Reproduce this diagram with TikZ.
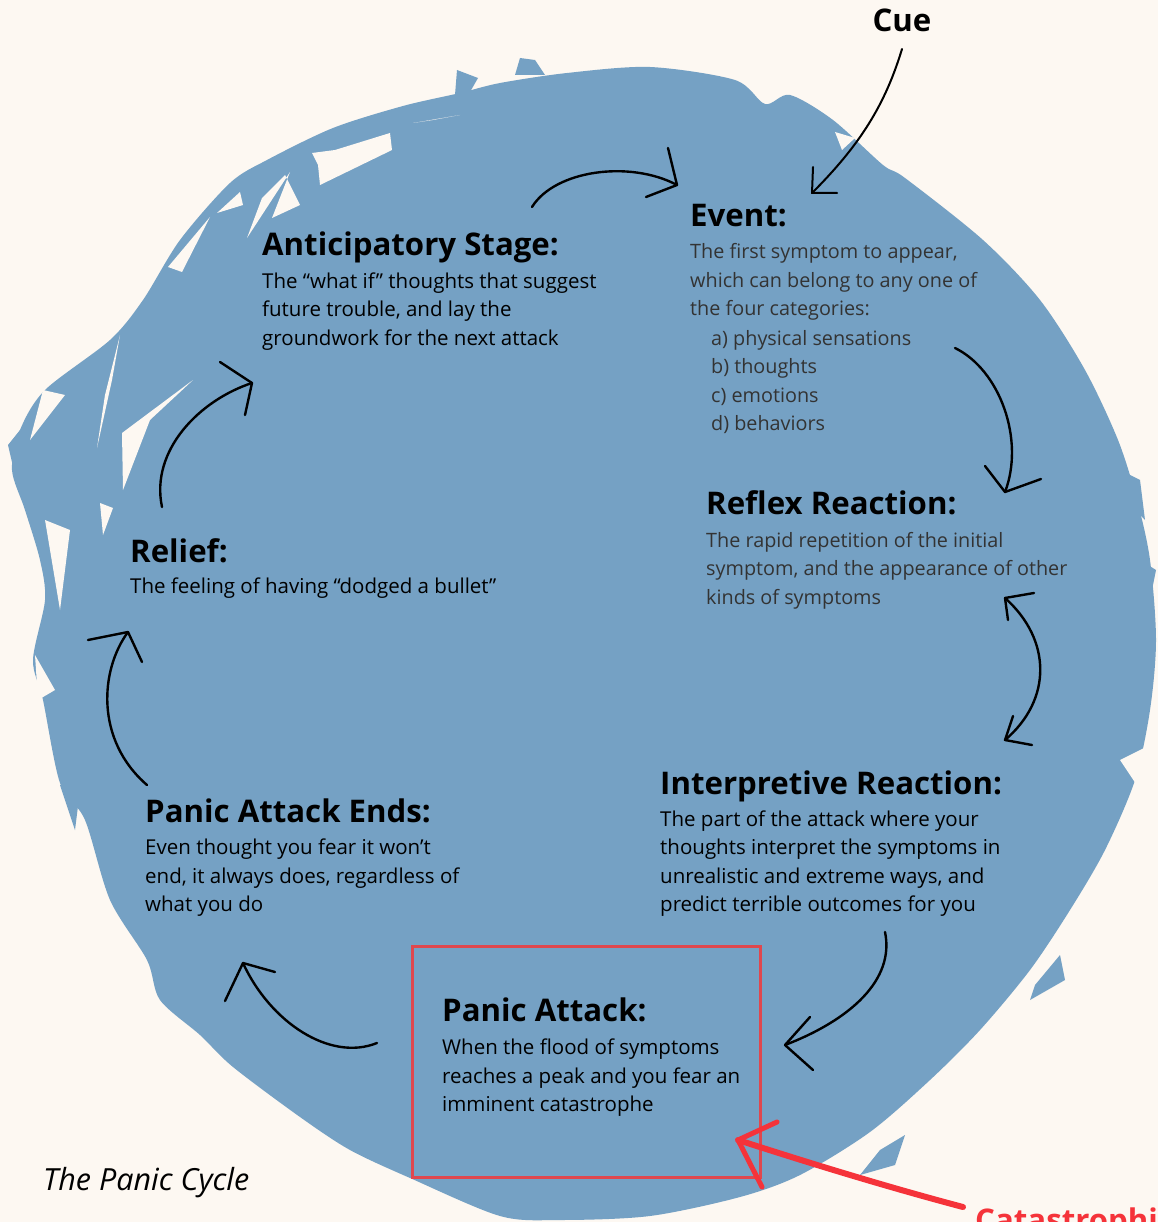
\documentclass[tikz,border=0pt]{standalone}
\usepackage{fontspec}
\setmainfont{Open Sans}
\definecolor{bg}{HTML}{FDF8F2}
\definecolor{blob}{HTML}{75A1C4}
\definecolor{boxred}{HTML}{E0474E}
\definecolor{arrred}{HTML}{F5333A}
\newcommand\blines[1]{\begin{tabular}[t]{@{}l@{}}#1\end{tabular}}
\tikzset{
  ttl/.style={anchor=base west, inner sep=0pt, font=\fontsize{31.2}{36}\selectfont\bfseries},
  body/.style={anchor=base west, inner sep=0pt, font=\fontsize{20.5}{28.5}\selectfont},
  lightbody/.style={anchor=base west, inner sep=0pt, font=\fontsize{19.8}{28.5}\selectfont, text=black!80},
  hand/.style={line width=2.4pt, line cap=round, line join=round, draw=black},
  redhand/.style={line width=6pt, line cap=round, line join=round, draw=arrred},
  sliver/.style={fill=bg},
  chip/.style={fill=blob},
}
\begin{document}
\begin{tikzpicture}[x=1pt,y=-1pt]
\useasboundingbox (0,0) rectangle (1158,1222);
\clip (0,0) rectangle (1158,1222);
\fill[bg] (0,0) rectangle (1158,1222);
% brush blob
\fill[blob] plot[smooth cycle, tension=0.5] coordinates {
 (230,183) (267,160) (333,128) (403,106) (460,93) (500,83) (567,73) (650,67)
 (735,80) (765,104) (790,95) (833,120) (883,165) (905,178) (983,240) (1040,300)
 (1085,370) (1118,440) (1137,500) (1150,560) (1156,640) (1150,710) (1135,780)
 (1105,850) (1070,910) (1030,970) (980,1030) (930,1080) (870,1132) (800,1175)
 (740,1197) (650,1216) (560,1220) (500,1216) (410,1178) (350,1150) (300,1117)
 (233,1067) (200,1035) (160,1000) (147,960) (110,900) (85,820) (60,783)
 (43,700) (33,660) (45,600) (40,560) (25,510) (12,470) (20,430) (45,390)
 (110,340) (143,300) (180,240)};
% rough edges
\fill[chip] (455,95) -- (457,70) -- (478,78) -- (470,92) -- cycle;
\fill[chip] (515,75) -- (520,58) -- (535,60) -- (545,75) -- cycle;
\fill[chip] (1120,470) -- (1140,480) -- (1145,520) -- (1125,500) -- cycle;
\fill[chip] (1140,560) -- (1156,570) -- (1150,600) -- cycle;
\fill[chip] (1075,860) -- (1095,830) -- (1092,870) -- (1070,895) -- cycle;
\fill[chip] (1035,985) -- (1060,955) -- (1065,980) -- (1030,1000) -- cycle;
\fill[chip] (880,1150) -- (905,1135) -- (895,1165) -- (860,1175) -- cycle;
\fill[chip] (20,430) -- (8,445) -- (15,475) -- (30,450) -- cycle;
\fill[chip] (60,785) -- (80,790) -- (75,830) -- cycle;
\fill[sliver] (247,238) -- (290,172) -- (272,218) -- (300,205) -- (285,175) -- (262,198) -- cycle;
\fill[sliver] (217,213) -- (240,192) -- (243,205) -- cycle;
\fill[sliver] (312,153) -- (335,150) -- (390,133) -- (392,150) -- (320,185) -- (318,165) -- cycle;
\fill[sliver] (413,123) -- (460,115) -- (433,120) -- cycle;
\fill[sliver] (168,267) -- (210,217) -- (182,272) -- cycle;
\fill[sliver] (120,335) -- (112,380) -- (97,448) -- (105,395) -- cycle;
\fill[sliver] (193,380) -- (122,433) -- (123,490) -- (150,420) -- cycle;
\fill[sliver] (100,503) -- (113,508) -- (103,535) -- cycle;
\fill[sliver] (43,390) -- (65,395) -- (30,440) -- cycle;
\fill[sliver] (45,520) -- (60,610) -- (70,530) -- cycle;
\fill[sliver] (35,655) -- (55,690) -- (38,700) -- cycle;
\fill[sliver] (835,132) -- (855,138) -- (842,150) -- cycle;
\fill[sliver] (1120,760) -- (1150,745) -- (1140,790) -- cycle;
\fill[sliver] (800,1180) -- (840,1165) -- (830,1190) -- cycle;
\fill[sliver] (130,990) -- (160,1010) -- (145,1000) -- cycle;

% text blocks
\node[ttl] (anttitle) at (262,256) {Anticipatory Stage:};
\node[body] (antbody) at (262,288.3) {\blines{The “what if” thoughts that suggest\\future trouble, and lay the\\groundwork for the next attack}};

\node[ttl] (evtitle) at (690,227) {Event:};
\node[lightbody] (evbody) at (690,259) {\blines{The first symptom to appear,\\which can belong to any one of\\the four categories:}};
\node[lightbody] (evlist) at (711,345) {\blines{a) physical sensations\\b) thoughts\\c) emotions\\d) behaviors}};

\node[ttl] (rxtitle) at (706,514) {Reflex Reaction:};
\node[lightbody] (rxbody) at (706,547) {\blines{The rapid repetition of the initial\\symptom, and the appearance of other\\kinds of symptoms}};

\node[ttl] (intitle) at (660,794) {Interpretive Reaction:};
\node[body] (inbody) at (660,826) {\blines{The part of the attack where your\\thoughts interpret the symptoms in\\unrealistic and extreme ways, and\\predict terrible outcomes for you}};

\node[ttl] (patitle) at (442,1021) {Panic Attack:};
\node[body] (pabody) at (442,1054.5) {\blines{When the flood of symptoms\\reaches a peak and you fear an\\imminent catastrophe}};
\node[draw=boxred, line width=2.6pt, inner sep=0pt, minimum width=348pt, minimum height=231pt, anchor=north west] (pabox) at (411,945) {};

\node[ttl] (entitle) at (145,822) {Panic Attack Ends:};
\node[body] (enbody) at (145,854.5) {\blines{Even thought you fear it won’t\\end, it always does, regardless of\\what you do}};

\node[ttl] (rltitle) at (130,562) {Relief:};
\node[body] (rlbody) at (130,593.5) {The feeling of having “dodged a bullet”};

\node[anchor=base, inner sep=0pt, font=\fontsize{31.2}{36}\selectfont\bfseries] (cue) at (902,32) {Cue};
\node[anchor=base west, inner sep=0pt, font=\fontsize{30.5}{34}\selectfont\itshape] (caption) at (43,1190) {The Panic Cycle};
\node[anchor=base west, inner sep=0pt, text=arrred, font=\fontsize{31.2}{36}\selectfont\bfseries] (cat) at (975,1231) {Catastrophi};

% arrows
\coordinate (a1s) at (532,207); \coordinate (a1t) at (677,185);
\draw[hand] (a1s) .. controls (555,170) and (630,160) .. (a1t);
\draw[hand] (668,148) -- (a1t) -- (646,197);

\coordinate (cs) at (902,49); \coordinate (ct) at (812,193);
\draw[hand, line width=2pt] (cs) .. controls (885,105) and (860,145) .. (ct);
\draw[hand, line width=2pt] (813,167) -- (ct) -- (837,193);

\coordinate (a2s) at (955,348); \coordinate (a2t) at (1005,492);
\draw[hand] (a2s) .. controls (1000,370) and (1025,440) .. (a2t);
\draw[hand] (985,466) -- (a2t) -- (1041,479);

\coordinate (a3s) at (1005,598); \coordinate (a3t) at (1005,740);
\draw[hand] (a3s) .. controls (1052,640) and (1052,700) .. (a3t);
\draw[hand] (1034,593) -- (a3s) -- (1008,620);
\draw[hand] (1013,716) -- (a3t) -- (1032,745);

\coordinate (a4s) at (885,932); \coordinate (a4t) at (785,1045);
\draw[hand] (a4s) .. controls (895,980) and (850,1020) .. (a4t);
\draw[hand] (810,1017) -- (a4t) -- (813,1070);

\coordinate (a5s) at (377,1043); \coordinate (a5t) at (243,963);
\draw[hand] (a5s) .. controls (330,1062) and (270,1022) .. (a5t);
\draw[hand] (225,1001) -- (a5t) -- (275,972);

\coordinate (a6s) at (147,785); \coordinate (a6t) at (128,632);
\draw[hand] (a6s) .. controls (95,740) and (100,670) .. (a6t);
\draw[hand] (88,640) -- (a6t) -- (142,662);

\coordinate (a7s) at (162,507); \coordinate (a7t) at (252,383);
\draw[hand] (a7s) .. controls (150,450) and (200,400) .. (a7t);
\draw[hand] (220,362) -- (a7t) -- (245,415);

\coordinate (rs) at (963,1207); \coordinate (rt) at (738,1140);
\draw[redhand] (rs) .. controls (880,1185) and (800,1160) .. (rt);
\draw[redhand, line width=5pt] (777,1122) -- (rt) -- (762,1187);
\end{tikzpicture}
\end{document}
